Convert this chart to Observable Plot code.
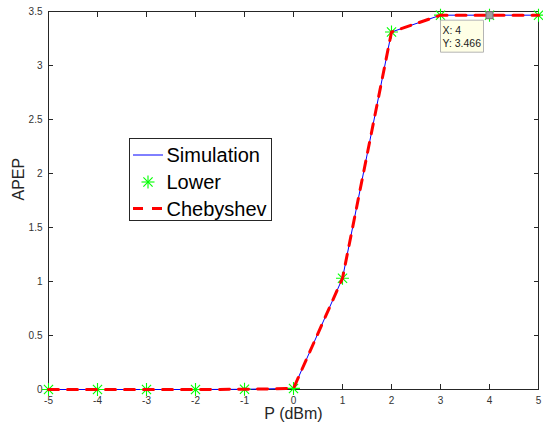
<!DOCTYPE html>
<html>
<head>
<meta charset="utf-8">
<script src="https://cdn.jsdelivr.net/npm/d3@7"></script>
<script src="https://cdn.jsdelivr.net/npm/@observablehq/plot@0.6"></script>
<style>
  html, body { margin: 0; padding: 0; background: #fff; }
  #wrap { position: relative; width: 543px; height: 431px; }
  #legend { position: absolute; left: 129px; top: 138px; }
</style>
</head>
<body>
<div id="wrap"></div>
<script>
// ---- data ----
const powerDbm   = [-5, -4, -3, -2, -1, 0, 1, 2, 3, 4, 5];
const simulation = [0, 0, 0, 0, 0.002, 0.01, 1.03, 3.31, 3.466, 3.466, 3.466];
const lower      = [0, 0, 0, 0, 0.002, 0.01, 1.03, 3.31, 3.466, 3.466, 3.466];
const chebyshev  = [0, 0, 0, 0, 0.002, 0.01, 1.03, 3.31, 3.466, 3.466, 3.466];
const xTicks = [-5, -4, -3, -2, -1, 0, 1, 2, 3, 4, 5];
const yTicks = [0, 0.5, 1, 1.5, 2, 2.5, 3, 3.5];
const datatip = [{x: 4, y: 3.466}];
const seriesNames = ["Simulation", "Lower", "Chebyshev"];

const rows = powerDbm.map((p, i) => ({p, sim: simulation[i], low: lower[i], cheb: chebyshev[i]}));

// MATLAB-style 8-spoke asterisk
const star8 = {
  draw(ctx, size) {
    const r = Math.sqrt(size / Math.PI);
    for (let i = 0; i < 4; i++) {
      const a = i * Math.PI / 4;
      const dx = r * Math.cos(a), dy = r * Math.sin(a);
      ctx.moveTo(-dx, -dy); ctx.lineTo(dx, dy);
    }
  }
};
// datatip box (offset from its anchor point)
const tipBox = {
  draw(ctx) {
    ctx.moveTo(-49, 5); ctx.lineTo(-6, 5); ctx.lineTo(-6, 37); ctx.lineTo(-49, 37); ctx.closePath();
  }
};

const axisColor = "#262626";
const plot = Plot.plot({
  width: 543,
  height: 431,
  marginLeft: 48,
  marginRight: 5,
  marginTop: 11,
  marginBottom: 42,
  style: {fontFamily: "'Liberation Sans', Arial, Helvetica, sans-serif", fontSize: "10px", color: axisColor, background: "#fff"},
  x: {domain: [-5, 5]},
  y: {domain: [0, 3.5]},
  marks: [
    // tick labels
    Plot.axisX({ticks: xTicks, tickSize: 0, tickPadding: 7, tickFormat: d => String(d), label: null, fill: "#333"}),
    Plot.axisY({ticks: yTicks, tickSize: 0, tickPadding: 6, tickFormat: d => String(d), label: null, fill: "#333"}),
    // inward ticks on all four sides
    Plot.axisX({ticks: xTicks, anchor: "bottom", tickSize: -5, tickFormat: () => "", label: null, stroke: axisColor}),
    Plot.axisX({ticks: xTicks, anchor: "top", tickSize: -5, tickFormat: () => "", label: null, stroke: axisColor}),
    Plot.axisY({ticks: yTicks, anchor: "left", tickSize: -5, tickFormat: () => "", label: null, stroke: axisColor}),
    Plot.axisY({ticks: yTicks, anchor: "right", tickSize: -5, tickFormat: () => "", label: null, stroke: axisColor}),
    Plot.frame({stroke: axisColor, strokeWidth: 1}),
    // axis titles
    Plot.text(["APEP"], {frameAnchor: "left", rotate: -90, dx: -30, fontSize: 16, fill: axisColor}),
    Plot.text(["P (dBm)"], {frameAnchor: "bottom", dy: 29, fontSize: 16, fill: axisColor}),
    // series
    Plot.line(rows, {x: "p", y: "sim", stroke: "#0000ff", strokeWidth: 1}),
    Plot.dot(rows, {x: "p", y: "low", symbol: star8, r: 6.5, stroke: "#00ff00", fill: "none", strokeWidth: 1.1}),
    Plot.line(rows, {x: "p", y: "cheb", stroke: "#ff0000", strokeWidth: 3, strokeDasharray: "10,9"}),
    // datatip
    Plot.dot(datatip, {x: "x", y: "y", symbol: tipBox, r: 1, fill: "#ffffe6", stroke: "#b4b4b4", strokeWidth: 1}),
    Plot.text(datatip, {x: "x", y: "y", text: d => `X: ${d.x}\nY: ${d.y}`, textAnchor: "start", lineAnchor: "top", dx: -47, dy: 9, fontSize: 10.5, lineHeight: 1.25, fill: "#222"}),
    Plot.dot(datatip, {x: "x", y: "y", symbol: "square", r: 4, fill: "#a0a0a0", stroke: "#707070", strokeWidth: 1})
  ]
});
document.getElementById("wrap").appendChild(plot);

// legend
const legend = document.createElement("div");
legend.id = "legend";
legend.innerHTML = `
<svg width="143" height="83" style="font-family:'Liberation Sans', Arial, Helvetica, sans-serif;">
  <rect x="0.5" y="0.5" width="142" height="82" fill="#fff" stroke="${axisColor}" stroke-width="1"/>
  <line x1="4" x2="34" y1="17" y2="17" stroke="#0000ff" stroke-width="1"/>
  <g transform="translate(19,44)" stroke="#00ff00" stroke-width="1.1">
    <line x1="-6.5" x2="6.5" y1="0" y2="0"/><line x1="0" x2="0" y1="-6.5" y2="6.5"/>
    <line x1="-4.6" x2="4.6" y1="-4.6" y2="4.6"/><line x1="-4.6" x2="4.6" y1="4.6" y2="-4.6"/>
  </g>
  <line x1="4" x2="34" y1="70.5" y2="70.5" stroke="#ff0000" stroke-width="3" stroke-dasharray="10,9"/>
  <text x="37.5" y="17" dy="0.35em" font-size="20" fill="#000">${seriesNames[0]}</text>
  <text x="37.5" y="44" dy="0.35em" font-size="20" fill="#000">${seriesNames[1]}</text>
  <text x="37.5" y="70.5" dy="0.35em" font-size="20" fill="#000">${seriesNames[2]}</text>
</svg>`;
document.getElementById("wrap").appendChild(legend);
</script>
</body>
</html>
